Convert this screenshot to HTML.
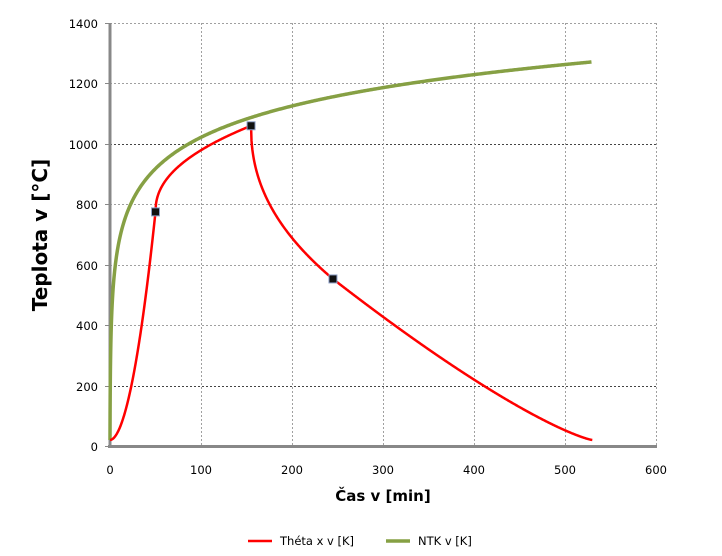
<!DOCTYPE html>
<html><head><meta charset="utf-8"><style>
html,body{margin:0;padding:0;background:#fff;}
svg{display:block;font-family:"DejaVu Sans","Liberation Sans",sans-serif;}
</style></head><body>
<svg id="s" width="722" height="556" viewBox="0 0 722 556" xmlns="http://www.w3.org/2000/svg">
<g stroke="#a0a0a0" stroke-width="1" stroke-dasharray="2,2">
<line x1="110" x2="656" y1="23.5" y2="23.5"/>
<line x1="110" x2="656" y1="83.5" y2="83.5"/>
<line x1="110" x2="656" y1="144.5" y2="144.5" stroke="#444"/>
<line x1="110" x2="656" y1="204.5" y2="204.5"/>
<line x1="110" x2="656" y1="265.5" y2="265.5"/>
<line x1="110" x2="656" y1="325.5" y2="325.5"/>
<line x1="110" x2="656" y1="386.5" y2="386.5" stroke="#444"/>
<line x1="201.5" x2="201.5" y1="23" y2="446"/>
<line x1="292.5" x2="292.5" y1="23" y2="446"/>
<line x1="383.5" x2="383.5" y1="23" y2="446"/>
<line x1="474.5" x2="474.5" y1="23" y2="446"/>
<line x1="565.5" x2="565.5" y1="23" y2="446"/>
<line x1="656.5" x2="656.5" y1="23" y2="446"/>
</g>
<g stroke="#888" stroke-width="3">
<line x1="110" x2="110" y1="23" y2="448"/>
<line x1="108" x2="657" y1="446.5" y2="446.5"/>
</g>
<g stroke="#888" stroke-width="1">
<line x1="105" x2="110" y1="23.5" y2="23.5"/><line x1="105" x2="110" y1="83.5" y2="83.5"/>
<line x1="105" x2="110" y1="144.5" y2="144.5"/><line x1="105" x2="110" y1="204.5" y2="204.5"/>
<line x1="105" x2="110" y1="265.5" y2="265.5"/><line x1="105" x2="110" y1="325.5" y2="325.5"/>
<line x1="105" x2="110" y1="386.5" y2="386.5"/><line x1="105" x2="110" y1="446.5" y2="446.5"/>
</g>
<g font-size="11.5" fill="#000" text-anchor="end">
<text x="98" y="28">1400</text><text x="98" y="88">1200</text><text x="98" y="149">1000</text>
<text x="98" y="209">800</text><text x="98" y="270">600</text><text x="98" y="330">400</text>
<text x="98" y="391">200</text><text x="98" y="451">0</text>
</g>
<g font-size="11.5" fill="#000" text-anchor="middle">
<text x="110" y="474">0</text><text x="201" y="474">100</text><text x="292" y="474">200</text>
<text x="383" y="474">300</text><text x="474" y="474">400</text><text x="565" y="474">500</text><text x="656" y="474">600</text>
</g>
<text x="383" y="501" font-size="15" font-weight="bold" text-anchor="middle">Čas v [min]</text>
<text transform="translate(47,235) rotate(-90)" font-size="20" font-weight="bold" text-anchor="middle">Teplota  v [°C]</text>
<path id="g" fill="none" stroke="#86a044" stroke-width="3.5"/>
<path id="r" fill="none" stroke="#ff0000" stroke-width="2.5"/>
<g id="m"></g>
<line x1="248" x2="272" y1="541" y2="541" stroke="#ff0000" stroke-width="2.5"/>
<text x="280" y="545" font-size="11.5">Théta x v [K]</text>
<line x1="386" x2="410" y1="541" y2="541" stroke="#86a044" stroke-width="3.5"/>
<text x="418" y="545" font-size="11.5">NTK v [K]</text>
</svg>
<script>
function X(t){return 110+t*0.91}
function Y(v){return 446-v*0.3021}
var d="";
for(var t=0;t<=530;t+=(t<5?0.1:1)){var v=20+345*Math.log10(8*t+1);d+=(d?"L":"M")+X(t).toFixed(2)+","+Y(v).toFixed(2);}
document.getElementById("g").setAttribute("d",d);
var r="";
function f(t){
 if(t<=50)return 20+755*Math.pow(t/50,1.9);
 if(t<=155)return 775+285*Math.pow((t-50)/105,0.45);
 if(t<=245)return 1060-507*Math.pow((t-155)/90,0.45);
 return 20+533*Math.pow((530-t)/285,1.25);
}
for(var t=0;t<=530;t+=0.5){r+=(r?"L":"M")+X(t).toFixed(2)+","+Y(f(t)).toFixed(2);}
document.getElementById("r").setAttribute("d",r);
var m=document.getElementById("m"),pts=[[50,775],[155,1060],[245,553]];
pts.forEach(function(p){var e=document.createElementNS("http://www.w3.org/2000/svg","rect");
e.setAttribute("x",X(p[0])-4);e.setAttribute("y",Y(p[1])-4);e.setAttribute("width",8);e.setAttribute("height",8);
e.setAttribute("fill","#111");e.setAttribute("stroke","#8ea0c8");e.setAttribute("stroke-width","1");m.appendChild(e);});
</script>
</body></html>
